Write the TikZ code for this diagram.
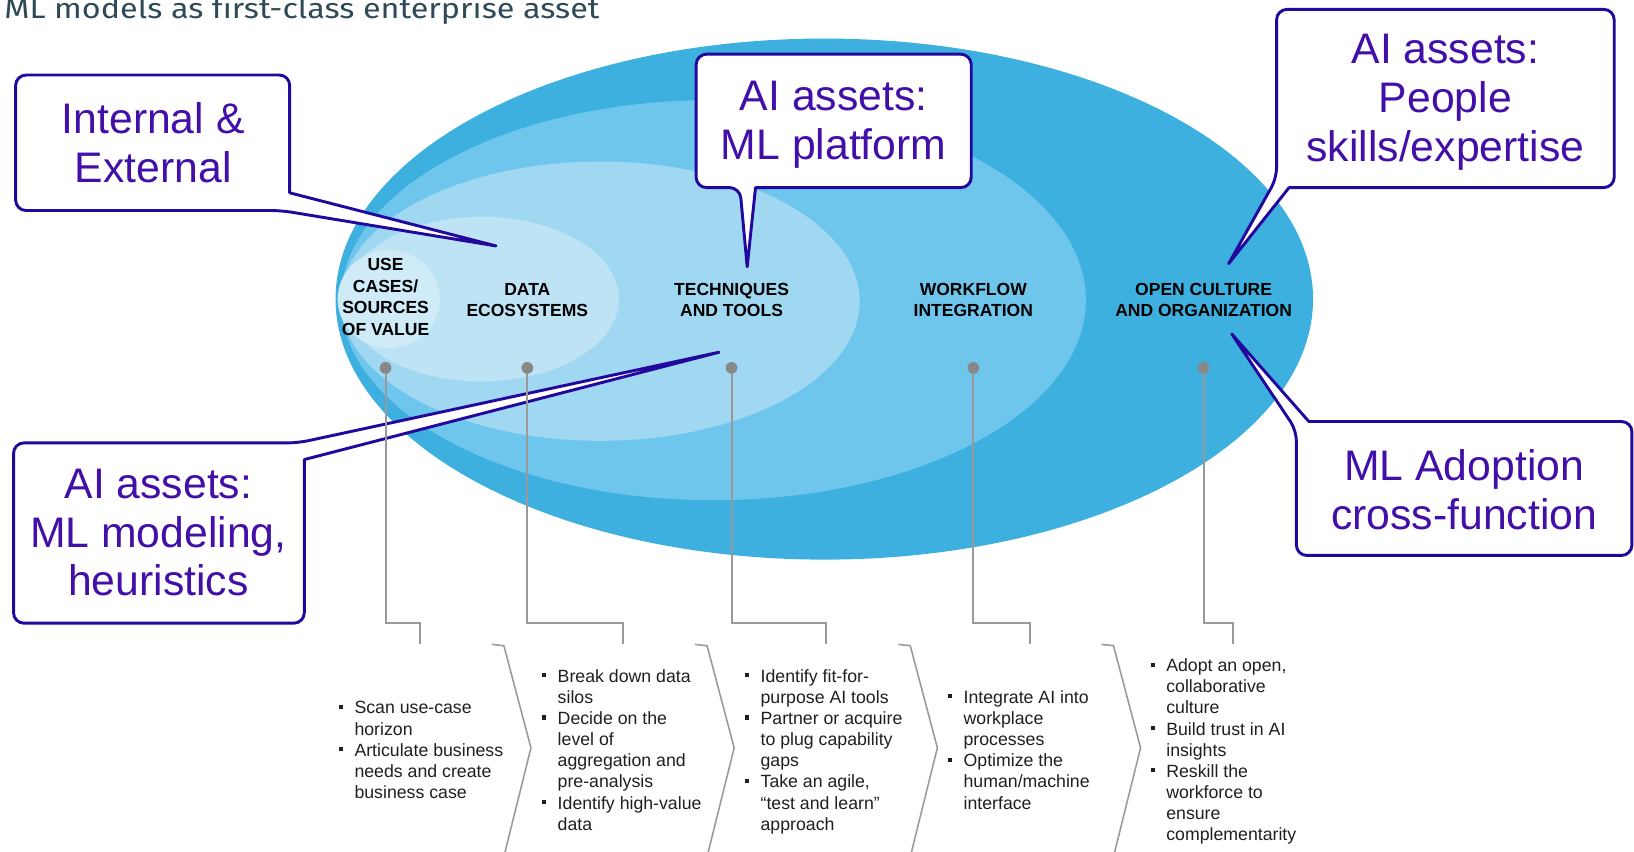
\documentclass[tikz,border=0pt]{standalone}
\usepackage{fontspec}
\setmainfont{Liberation Sans}
\newfontfamily\titlefont[FakeStretch=1.15,Ligatures=NoCommon]{Fira Sans}
\definecolor{ellA}{HTML}{3DB0E0}
\definecolor{ellB}{HTML}{6EC6EC}
\definecolor{ellC}{HTML}{A0D8F1}
\definecolor{ellD}{HTML}{BDE3F5}
\definecolor{ellE}{HTML}{CFEBF8}
\definecolor{cbord}{HTML}{22089C}
\definecolor{ctxt}{HTML}{420FA8}
\definecolor{gline}{HTML}{999999}
\definecolor{gdot}{HTML}{888888}
\definecolor{titlecol}{HTML}{2F4A57}
\newcommand{\bulitem}{\makebox[15pt][l]{\raisebox{4.8pt}{\rule{3.9pt}{3.9pt}}}\rule{0pt}{14pt}}
\newcommand{\contline}{\hspace*{15pt}\rule{0pt}{14pt}}
\begin{document}
\begin{tikzpicture}[x=1pt,y=-1pt,
  elllabel/.style={font=\bfseries\fontsize{16.8}{20.5}\selectfont, align=center, inner sep=0, text=black},
  callout/.style={draw=cbord, line width=2.8pt, fill=white, line join=round},
  ctext/.style={text=ctxt, font=\fontsize{41}{47}\selectfont, align=center, inner sep=0},
  dotnode/.style={circle, fill=gdot, inner sep=0, minimum size=11pt},
  conn/.style={draw=gline, line width=2pt},
  chev/.style={draw=gline, line width=1.5pt},
  bullist/.style={font=\fontsize{17}{20.3}\selectfont, align=left, inner sep=0, anchor=north west, text=black!88}
]
\useasboundingbox (0,0) rectangle (1568,817);

% title
\node[anchor=base west, inner sep=0, font=\titlefont\fontsize{27}{30}\selectfont, text=titlecol] (title) at (4,17.6) {ML models as first-class enterprise asset};

% nested ellipses
\fill[ellA] (791,287) ellipse [x radius=469pt, y radius=250pt];
\fill[ellB] (684.5,288) ellipse [x radius=357.5pt, y radius=192pt];
\fill[ellC] (576,289) ellipse [x radius=249pt, y radius=134pt];
\fill[ellD] (462,287) ellipse [x radius=132pt, y radius=79pt];
\fill[ellE] (373,287) ellipse [x radius=49pt, y radius=47pt];

% ellipse labels
\node[elllabel] (lUse) at (370,285) {USE\\CASES/\\SOURCES\\OF VALUE};
\node[elllabel] (lData) at (506,288) {DATA\\ECOSYSTEMS};
\node[elllabel] (lTech) at (702,288) {TECHNIQUES\\AND TOOLS};
\node[elllabel] (lWork) at (934,288) {WORKFLOW\\INTEGRATION};
\node[elllabel] (lOpen) at (1155,288) {OPEN CULTURE\\AND ORGANIZATION};

% callouts
\draw[callout] (278,185) [rounded corners=10pt] -- (278,72) -- (15,72) -- (15,202) -- (270,202) [sharp corners] -- (476,236) -- cycle;
\node[ctext] (t1) at (147,137) {Internal \&\\External};

\draw[callout] (725,180) [rounded corners=10pt] -- (932,180) -- (932,52) -- (668,52) -- (668,180) -- (710,180) [sharp corners] -- (717,256) -- cycle;
\node[ctext] (t2) at (800,120) {AI assets:\\ML platform};

\draw[callout] (1237,180) [rounded corners=10pt] -- (1549,180) -- (1549,9) -- (1225,9) -- (1225,171) [sharp corners] -- (1179,253) -- cycle;
\node[ctext] (t3) at (1387,98) {AI assets:\\People\\skills/expertise};

\draw[callout] (1256,404.5) [rounded corners=10pt] -- (1566,404.5) -- (1566,533) -- (1244,533) -- (1244,413) [sharp corners] -- (1182,320.5) -- cycle;
\node[ctext] (t4) at (1405,470) {ML Adoption\\cross-function};

\draw[callout] (292,441) [rounded corners=10pt] -- (292,598) -- (13,598) -- (13,425) -- (286,425) [sharp corners] -- (690,338) -- cycle;
\node[ctext] (t5) at (152,511) {AI assets:\\ML modeling,\\heuristics};

% connectors with dots
\coordinate (k1) at (403,617.5);
\coordinate (k2) at (598,617.5);
\coordinate (k3) at (793,617.5);
\coordinate (k4) at (988,617.5);
\coordinate (k5) at (1183,617.5);
\node[dotnode] (d1) at (370,353) {};
\node[dotnode] (d2) at (506,353) {};
\node[dotnode] (d3) at (702,353) {};
\node[dotnode] (d4) at (934,353) {};
\node[dotnode] (d5) at (1155,353) {};
\draw[conn] (d1.center) -- (370,598) -| (k1);
\draw[conn] (d2.center) -- (506,598) -| (k2);
\draw[conn] (d3.center) -- (702,598) -| (k3);
\draw[conn] (d4.center) -- (934,598) -| (k4);
\draw[conn] (d5.center) -- (1155,598) -| (k5);
\fill[gdot] (d1) circle (5.5pt);
\fill[gdot] (d2) circle (5.5pt);
\fill[gdot] (d3) circle (5.5pt);
\fill[gdot] (d4) circle (5.5pt);
\fill[gdot] (d5) circle (5.5pt);

% chevrons
\foreach \cx in {472,667,862,1057}
  \draw[chev] (\cx,618.4) -- ++(11.5,1.2) -- ++(26,98) -- ++(-26,104.5);

% bullet columns
\node[bullist] (col1) at (325,670.9) {\bulitem Scan use-case\\\contline horizon\\\bulitem Articulate business\\\contline needs and create\\\contline business case};
\node[bullist] (col2) at (520,640.45) {\bulitem Break down data\\\contline silos\\\bulitem Decide on the\\\contline level of\\\contline aggregation and\\\contline pre-analysis\\\bulitem Identify high-value\\\contline data};
\node[bullist] (col3) at (714.7,640.45) {\bulitem Identify fit-for-\\\contline purpose AI tools\\\bulitem Partner or acquire\\\contline to plug capability\\\contline gaps\\\bulitem Take an agile,\\\contline “test and learn”\\\contline approach};
\node[bullist] (col4) at (909.5,660.75) {\bulitem Integrate AI into\\\contline workplace\\\contline processes\\\bulitem Optimize the\\\contline human/machine\\\contline interface};
\node[bullist] (col5) at (1104,630.3) {\bulitem Adopt an open,\\\contline collaborative\\\contline culture\\\bulitem Build trust in AI\\\contline insights\\\bulitem Reskill the\\\contline workforce to\\\contline ensure\\\contline complementarity};
\end{tikzpicture}
\end{document}
